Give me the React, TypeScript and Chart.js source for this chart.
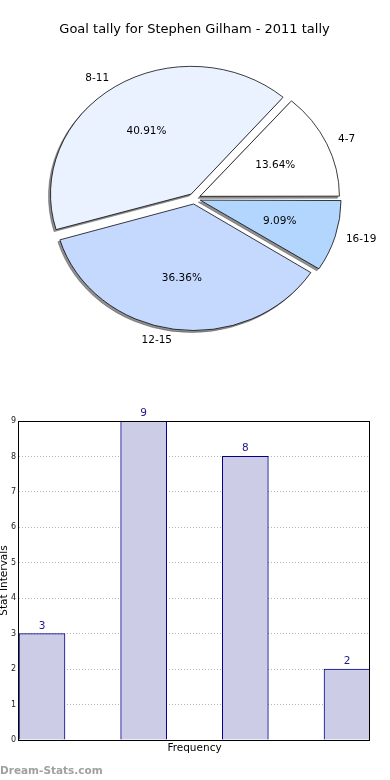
import React, { useEffect, useRef } from "react";
import { Chart, registerables } from "chart.js";

Chart.register(...registerables);

const TITLE = "Goal tally for Stephen Gilham - 2011 tally";
const intervals = ["4-7", "8-11", "12-15", "16-19"];
const tally = [3, 9, 8, 2];
const sliceColors = ["#FFFFFF", "#EAF2FF", "#C5D9FF", "#B3D6FF"];
const yTickValues = [0, 1, 2, 3, 4, 5, 6, 7, 8, 9];
const Y_TITLE = "Stat Intervals";
const X_TITLE = "Frequency";
const WATERMARK = "Dream-Stats.com";

const FONT = "'DejaVu Sans', Verdana, sans-serif";
const Y_SQUASH = 127 / 140;
const SHIFT = 1000;

const ellipsePlugin = {
  id: "ellipseShadow",
  beforeDatasetsDraw(chart: any) {
    const { ctx, chartArea } = chart;
    const cx = (chartArea.left + chartArea.right) / 2;
    const cy = (chartArea.top + chartArea.bottom) / 2;
    ctx.save();
    ctx.translate(cx, cy);
    ctx.scale(1, Y_SQUASH);
    ctx.translate(-cx, -cy);
    // shadow pass: shapes drawn off-canvas, only their shadows land on the page
    ctx.save();
    ctx.translate(SHIFT, 0);
    ctx.shadowColor = "rgba(70,70,70,0.6)";
    ctx.shadowOffsetX = -SHIFT - 2;
    ctx.shadowOffsetY = 2;
    ctx.shadowBlur = 0;
    const meta = chart.getDatasetMeta(0);
    meta.data.forEach((el: any) => el.draw(ctx));
    ctx.restore();
  },
  afterDatasetsDraw(chart: any) {
    chart.ctx.restore();
  },
};

const pieLabelPlugin = {
  id: "pieLabels",
  afterDraw(chart: any) {
    const { ctx, chartArea } = chart;
    const cy = (chartArea.top + chartArea.bottom) / 2;
    const meta = chart.getDatasetMeta(0);
    const ds = chart.data.datasets[0];
    const labels = chart.data.labels;
    const total = ds.data.reduce((a: number, b: number) => a + b, 0);
    ctx.save();
    ctx.font = `10.5px ${FONT}`;
    ctx.fillStyle = "#000";
    ctx.textBaseline = "middle";
    meta.data.forEach((el: any, i: number) => {
      const mid = (el.startAngle + el.endAngle) / 2;
      const off = (el.options.offset || 0) / 4;
      const r = el.outerRadius;
      const pos = (k: number) => ({
        x: el.x + Math.cos(mid) * (off + k * r),
        y: cy + (el.y - cy) * Y_SQUASH + Math.sin(mid) * (off + k * r) * Y_SQUASH,
      });
      const p = pos(1.1);
      ctx.textAlign = Math.cos(mid) >= 0 ? "left" : "right";
      ctx.fillText(labels[i], p.x, p.y);
      const q = pos(0.6);
      ctx.textAlign = "center";
      ctx.fillText(((ds.data[i] / total) * 100).toFixed(2) + "%", q.x, q.y);
    });
    ctx.restore();
  },
};

const framePlugin = {
  id: "frame",
  afterDraw(chart: any) {
    const { ctx, chartArea } = chart;
    ctx.save();
    ctx.strokeStyle = "#000";
    ctx.lineWidth = 1;
    ctx.strokeRect(
      Math.round(chartArea.left) - 0.5,
      Math.round(chartArea.top) + 0.5,
      Math.round(chartArea.right - chartArea.left) + 0,
      Math.round(chartArea.bottom - chartArea.top) - 0
    );
    ctx.restore();
  },
};

const barValuePlugin = {
  id: "barValues",
  afterDraw(chart: any) {
    const { ctx } = chart;
    const meta = chart.getDatasetMeta(0);
    const ds = chart.data.datasets[0];
    ctx.save();
    ctx.font = `10.5px ${FONT}`;
    ctx.fillStyle = "#1A1A8C";
    ctx.textAlign = "center";
    ctx.textBaseline = "alphabetic";
    meta.data.forEach((el: any, i: number) => {
      ctx.fillText(String(ds.data[i].y), el.x, el.y - 5);
    });
    ctx.restore();
  },
};

function PieChart() {
  const ref = useRef<HTMLCanvasElement>(null);
  useEffect(() => {
    if (!ref.current) return;
    const order = [3, 2, 1, 0];
    const chart = new Chart(ref.current, {
      type: "pie",
      data: {
        labels: order.map((i) => intervals[i]),
        datasets: [
          {
            data: order.map((i) => tally[i]),
            backgroundColor: order.map((i) => sliceColors[i]),
            borderColor: "#000",
            borderWidth: 0.8,
            offset: 24,
          },
        ],
      },
      options: {
        animation: false,
        responsive: false,
        maintainAspectRatio: false,
        radius: 138,
        rotation: 90,
        layout: { padding: { top: 0, left: 0, right: 1, bottom: 30.4 } },
        plugins: {
          legend: { display: false },
          tooltip: { enabled: false },
          title: {
            display: true,
            text: TITLE,
            color: "#000",
            font: { family: FONT, size: 13, weight: "normal" },
            padding: { top: 22, bottom: 10 },
          },
        },
      } as any,
      plugins: [ellipsePlugin, pieLabelPlugin],
    });
    return () => chart.destroy();
  }, []);
  return (
    <canvas
      ref={ref}
      width={390}
      height={380}
      style={{ position: "absolute", left: 0, top: 0, width: 390, height: 380 }}
    />
  );
}

function BarChart() {
  const ref = useRef<HTMLCanvasElement>(null);
  useEffect(() => {
    if (!ref.current) return;
    const chart = new Chart(ref.current, {
      type: "bar",
      data: {
        datasets: [
          {
            data: tally.map((v, i) => ({ x: i, y: v })),
            backgroundColor: "#CCCCE6",
            borderColor: "#00008B",
            borderWidth: 1,
            barThickness: 46,
          },
        ],
      },
      options: {
        animation: false,
        responsive: false,
        maintainAspectRatio: false,
        layout: { padding: { top: 41, right: 20, left: 0, bottom: 0 } },
        plugins: { legend: { display: false }, tooltip: { enabled: false } },
        scales: {
          x: {
            type: "linear",
            min: -0.226,
            max: 3.226,
            offset: false,
            grid: { display: false, offset: false },
            border: { display: false },
            ticks: { display: false },
            title: {
              display: true,
              text: X_TITLE,
              color: "#000",
              font: { family: FONT, size: 10.5 },
              padding: { top: 0, bottom: 25 },
            },
            afterFit(s: any) {
              s.height = 40;
            },
          },
          y: {
            min: 0,
            max: 9,
            z: 1,
            afterBuildTicks(s: any) {
              s.ticks = yTickValues.map((v) => ({ value: v }));
            },
            ticks: {
              color: "#222",
              font: { family: FONT, size: 8 },
              padding: 3,
            },
            grid: { color: "#B4B4B4", drawTicks: false, lineWidth: 1 },
            border: { display: false, dash: [1, 2] },
            title: {
              display: true,
              text: Y_TITLE,
              color: "#000",
              font: { family: FONT, size: 10.5 },
              padding: { top: -2, bottom: 0 },
            },
            afterFit(s: any) {
              s.width = 19;
            },
          },
        },
      } as any,
      plugins: [framePlugin, barValuePlugin],
    });
    return () => chart.destroy();
  }, []);
  return (
    <canvas
      ref={ref}
      width={390}
      height={400}
      style={{ position: "absolute", left: 0, top: 380, width: 390, height: 400 }}
    />
  );
}

export default function App() {
  return (
    <div
      style={{
        position: "absolute",
        left: 0,
        top: 0,
        width: 390,
        height: 780,
        background: "#fff",
        overflow: "hidden",
      }}
    >
      <PieChart />
      <BarChart />
      <div
        style={{
          position: "absolute",
          left: 0,
          top: 764,
          fontFamily: FONT,
          fontSize: 10.5,
          fontWeight: "bold",
          lineHeight: "12px",
          color: "#A0A0A0",
          whiteSpace: "nowrap",
        }}
      >
        {WATERMARK}
      </div>
    </div>
  );
}
